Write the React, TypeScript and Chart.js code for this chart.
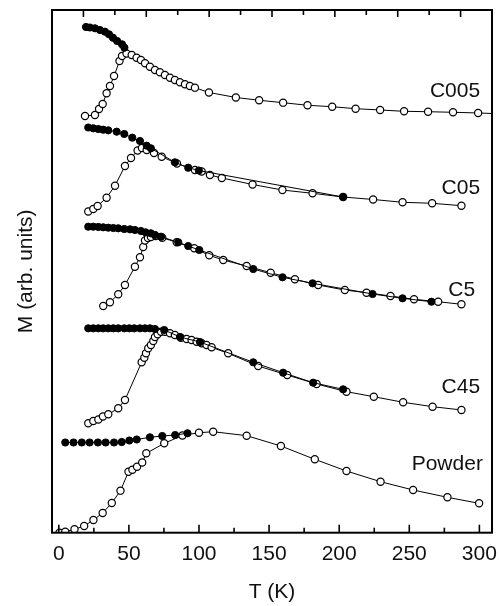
import React, { useEffect, useRef } from "react";
import { Chart, registerables } from "chart.js";

Chart.register(...registerables);

// ---- Data (T in K, M in arbitrary units, curves offset vertically) ----
const c005FilledT = [19.4, 22.2, 25.8, 29.4, 32.9, 35.8, 38.6, 41.6, 45.1, 46.8];
const c005FilledM = [9.675, 9.665, 9.65, 9.617, 9.585, 9.535, 9.47, 9.407, 9.344, 9.279];
const c005OpenT = [18.7, 25.8, 28.7, 31.3, 34.1, 36.5, 39.4, 43.3, 45.1, 48.3, 52.0, 55.5, 58.6, 61.5, 65.0, 68.6, 72.1, 75.7, 79.3, 82.8, 86.4, 90.0, 93.5, 97.1, 107.1, 126.3, 142.9, 160.0, 177.4, 195.0, 211.7, 229.2, 246.3, 263.4, 281.2, 299.1, 315.0];
const c005OpenM = [7.972, 7.991, 8.106, 8.202, 8.406, 8.546, 8.736, 9.024, 9.12, 9.168, 9.139, 9.087, 9.043, 8.98, 8.915, 8.852, 8.808, 8.757, 8.705, 8.661, 8.617, 8.579, 8.546, 8.514, 8.422, 8.326, 8.273, 8.227, 8.177, 8.15, 8.112, 8.087, 8.062, 8.054, 8.043, 8.03, 8.014];

const c05FilledT = [21.0, 24.6, 28.2, 31.7, 35.3, 41.3, 46.7, 52.4, 57.9, 62.7, 65.7, 82.8, 92.3, 99.9, 202.8];
const c05FilledM = [7.752, 7.737, 7.723, 7.71, 7.698, 7.672, 7.628, 7.557, 7.494, 7.404, 7.354, 7.086, 6.983, 6.929, 6.422];
const c05OpenT = [21.0, 24.6, 27.7, 34.1, 40.1, 47.2, 51.5, 56.2, 59.3, 62.7, 67.9, 73.4, 84.3, 97.1, 101.9, 107.8, 116.3, 138.2, 159.5, 181.0, 202.8, 224.2, 245.2, 266.3, 287.2];
const c05OpenM = [6.145, 6.193, 6.25, 6.409, 6.639, 7.016, 7.169, 7.312, 7.36, 7.322, 7.264, 7.193, 7.063, 6.939, 6.91, 6.843, 6.786, 6.662, 6.556, 6.493, 6.422, 6.375, 6.321, 6.302, 6.256];

const c5FilledT = [21.0, 24.6, 28.2, 31.7, 35.3, 38.9, 42.4, 46.7, 50.8, 54.3, 58.6, 61.9, 65.7, 68.6, 72.9, 85.2, 92.3, 100.2, 138.7, 159.6, 181.0, 223.8, 245.2, 265.8];
const c5FilledM = [5.854, 5.854, 5.849, 5.843, 5.835, 5.829, 5.824, 5.81, 5.804, 5.791, 5.772, 5.747, 5.728, 5.696, 5.663, 5.556, 5.485, 5.408, 5.045, 4.886, 4.771, 4.567, 4.484, 4.419];
const c5OpenT = [31.7, 36.5, 42.4, 47.2, 54.3, 57.9, 60.2, 61.5, 63.6, 65.7, 69.1, 73.8, 84.1, 96.6, 107.3, 117.3, 134.0, 151.1, 168.4, 185.0, 204.0, 219.5, 236.6, 253.4, 270.6, 287.2];
const c5OpenM = [4.337, 4.408, 4.561, 4.739, 5.089, 5.269, 5.466, 5.59, 5.638, 5.657, 5.676, 5.644, 5.556, 5.441, 5.307, 5.217, 5.102, 4.974, 4.848, 4.739, 4.643, 4.592, 4.528, 4.465, 4.419, 4.37];

const c45FilledT = [21.0, 24.6, 28.2, 31.7, 35.3, 38.9, 42.4, 46.7, 50.3, 53.8, 57.9, 61.5, 65.0, 68.6, 75.2, 86.4, 100.7, 138.7, 160.0, 181.4, 202.8];
const c45FilledM = [3.91, 3.91, 3.91, 3.91, 3.91, 3.91, 3.91, 3.91, 3.91, 3.91, 3.91, 3.91, 3.91, 3.897, 3.878, 3.744, 3.648, 3.26, 3.061, 2.87, 2.743];
const c45OpenT = [21.0, 24.6, 28.2, 31.5, 35.3, 42.4, 47.2, 59.1, 61.0, 62.2, 63.8, 65.7, 67.4, 68.6, 70.5, 72.9, 75.7, 79.3, 82.8, 87.1, 91.2, 94.7, 98.3, 101.9, 105.4, 109.0, 120.8, 142.2, 162.9, 183.9, 205.2, 224.7, 245.6, 266.6, 287.2];
const c45OpenM = [2.093, 2.137, 2.166, 2.223, 2.265, 2.38, 2.539, 3.26, 3.348, 3.432, 3.528, 3.591, 3.668, 3.744, 3.796, 3.845, 3.845, 3.815, 3.782, 3.731, 3.706, 3.687, 3.654, 3.624, 3.591, 3.547, 3.432, 3.189, 3.017, 2.845, 2.698, 2.602, 2.495, 2.411, 2.348];

const powderFilledT = [4.6, 10.5, 16.4, 22.0, 27.9, 33.4, 39.4, 44.9, 50.3, 55.6, 65.0, 73.8, 83.0, 91.8];
const powderFilledM = [1.726, 1.726, 1.726, 1.726, 1.726, 1.726, 1.726, 1.735, 1.764, 1.783, 1.825, 1.85, 1.869, 1.902];
const powderOpenT = [0.5, 4.6, 11.2, 18.1, 24.7, 31.3, 37.8, 44.0, 49.7, 52.5, 55.8, 59.5, 62.4, 75.2, 88.2, 100.0, 110.1, 134.0, 158.4, 182.6, 205.2, 229.5, 252.7, 277.2, 299.8];
const powderOpenM = [0.0, 0.019, 0.065, 0.128, 0.243, 0.377, 0.568, 0.804, 1.167, 1.205, 1.263, 1.343, 1.519, 1.71, 1.86, 1.913, 1.932, 1.856, 1.659, 1.404, 1.18, 0.976, 0.817, 0.677, 0.562];

// Curve labels (right-aligned anchor in data units)
const labelTexts = ["C005", "C05", "C5", "C45", "Powder"];
const labelT = [300.5, 300.5, 297.0, 300.5, 302.5];
const labelM = [8.45, 6.59, 4.64, 2.79, 1.31];

// Axis settings
const xMin = -4.85;
const xMax = 309;
const xStep = 25;
const xLabelStep = 50;
const yMin = 0;
const yMax = 10;
const topMin = 0;
const topMax = 14;

const FONT = "'Liberation Sans', Arial, Helvetica, sans-serif";

const pts = (t: number[], m: number[]) => t.map((v, i) => ({ x: v, y: m[i] }));

const filledStyle = {
  showLine: true,
  borderColor: "#000",
  borderWidth: 1,
  pointRadius: 3.6,
  pointBackgroundColor: "#000",
  pointBorderColor: "#000",
  pointBorderWidth: 1,
  tension: 0,
};
const openStyle = {
  showLine: true,
  borderColor: "#000",
  borderWidth: 1,
  pointRadius: 3.6,
  pointBackgroundColor: "#fff",
  pointBorderColor: "#000",
  pointBorderWidth: 1.2,
  tension: 0,
};

const framePlugin = {
  id: "frameTicks",
  afterDatasetsDraw(chart: any) {
    const { ctx, chartArea } = chart;
    const { left, right, top, bottom } = chartArea;
    ctx.save();
    ctx.strokeStyle = "#000";
    ctx.lineWidth = 2;
    ctx.strokeRect(left, top, right - left, bottom - top);
    ctx.lineWidth = 1.6;
    const xs = chart.scales.x;
    xs.ticks.forEach((t: any) => {
      const px = xs.getPixelForValue(t.value);
      const len = t.value % xLabelStep === 0 ? 8 : 5;
      ctx.beginPath();
      ctx.moveTo(px, bottom);
      ctx.lineTo(px, bottom - len);
      ctx.stroke();
    });
    const xt = chart.scales.xTop;
    xt.ticks.forEach((t: any) => {
      if (t.value <= topMin || t.value >= topMax) return;
      const px = xt.getPixelForValue(t.value);
      const len = t.value % 2 === 1 ? 7 : 5;
      ctx.beginPath();
      ctx.moveTo(px, top);
      ctx.lineTo(px, top + len);
      ctx.stroke();
    });
    // curve labels
    ctx.fillStyle = "#111";
    ctx.font = `21px ${FONT}`;
    ctx.textAlign = "right";
    ctx.textBaseline = "middle";
    const ys = chart.scales.y;
    labelTexts.forEach((txt, i) => {
      ctx.fillText(txt, xs.getPixelForValue(labelT[i]), ys.getPixelForValue(labelM[i]));
    });
    ctx.restore();
  },
};

export default function App() {
  const ref = useRef<HTMLCanvasElement | null>(null);
  useEffect(() => {
    if (!ref.current) return;
    const chart = new Chart(ref.current, {
      type: "scatter",
      data: {
        datasets: [
          { data: pts(c005FilledT, c005FilledM), ...filledStyle },
          { data: pts(c05FilledT, c05FilledM), ...filledStyle },
          { data: pts(c5FilledT, c5FilledM), ...filledStyle },
          { data: pts(c45FilledT, c45FilledM), ...filledStyle },
          { data: pts(powderFilledT, powderFilledM), ...filledStyle },
          { data: pts(c005OpenT, c005OpenM), ...openStyle },
          { data: pts(c05OpenT, c05OpenM), ...openStyle },
          { data: pts(c5OpenT, c5OpenM), ...openStyle },
          { data: pts(c45OpenT, c45OpenM), ...openStyle },
          { data: pts(powderOpenT, powderOpenM), ...openStyle },
        ] as any,
      },
      options: {
        animation: false,
        responsive: false,
        devicePixelRatio: 1,
        layout: { padding: { left: 0, right: 7, top: 0, bottom: 0 } },
        plugins: { legend: { display: false }, tooltip: { enabled: false } },
        scales: {
          x: {
            type: "linear",
            position: "bottom",
            min: xMin,
            max: xMax,
            grid: { display: false, drawTicks: false },
            border: { display: false },
            ticks: {
              stepSize: xStep,
              includeBounds: false,
              autoSkip: false,
              maxRotation: 0,
              minRotation: 0,
              padding: 9,
              color: "#111",
              font: { family: FONT, size: 21 },
              callback: (v: any) => (Number(v) % xLabelStep === 0 ? String(v) : ""),
            },
            title: {
              display: true,
              text: "T (K)",
              color: "#111",
              font: { family: FONT, size: 21 },
              padding: { top: 0, bottom: 1 },
            },
            afterFit: (s: any) => {
              s.height = 73.3;
              s.paddingLeft = 0;
              s.paddingRight = 0;
            },
          } as any,
          xTop: {
            type: "linear",
            position: "top",
            min: topMin,
            max: topMax,
            grid: { display: false, drawTicks: false },
            border: { display: false },
            ticks: { display: false, stepSize: 1 },
            afterFit: (s: any) => {
              s.height = 10;
              s.paddingLeft = 0;
              s.paddingRight = 0;
            },
          } as any,
          y: {
            type: "linear",
            min: yMin,
            max: yMax,
            grid: { display: false, drawTicks: false },
            border: { display: false },
            ticks: { display: false },
            title: {
              display: true,
              text: "M (arb. units)",
              color: "#111",
              font: { family: FONT, size: 21 },
              padding: { top: 14, bottom: 0 },
            },
            afterFit: (s: any) => {
              s.width = 52;
              s.paddingTop = 0;
              s.paddingBottom = 0;
            },
          } as any,
        },
      },
      plugins: [framePlugin],
    });
    return () => chart.destroy();
  }, []);
  return (
    <div style={{ position: "absolute", left: 0, top: 0, width: 499, height: 606, background: "#fff" }}>
      <canvas ref={ref} width={499} height={606} style={{ width: 499, height: 606, display: "block" }} />
    </div>
  );
}
